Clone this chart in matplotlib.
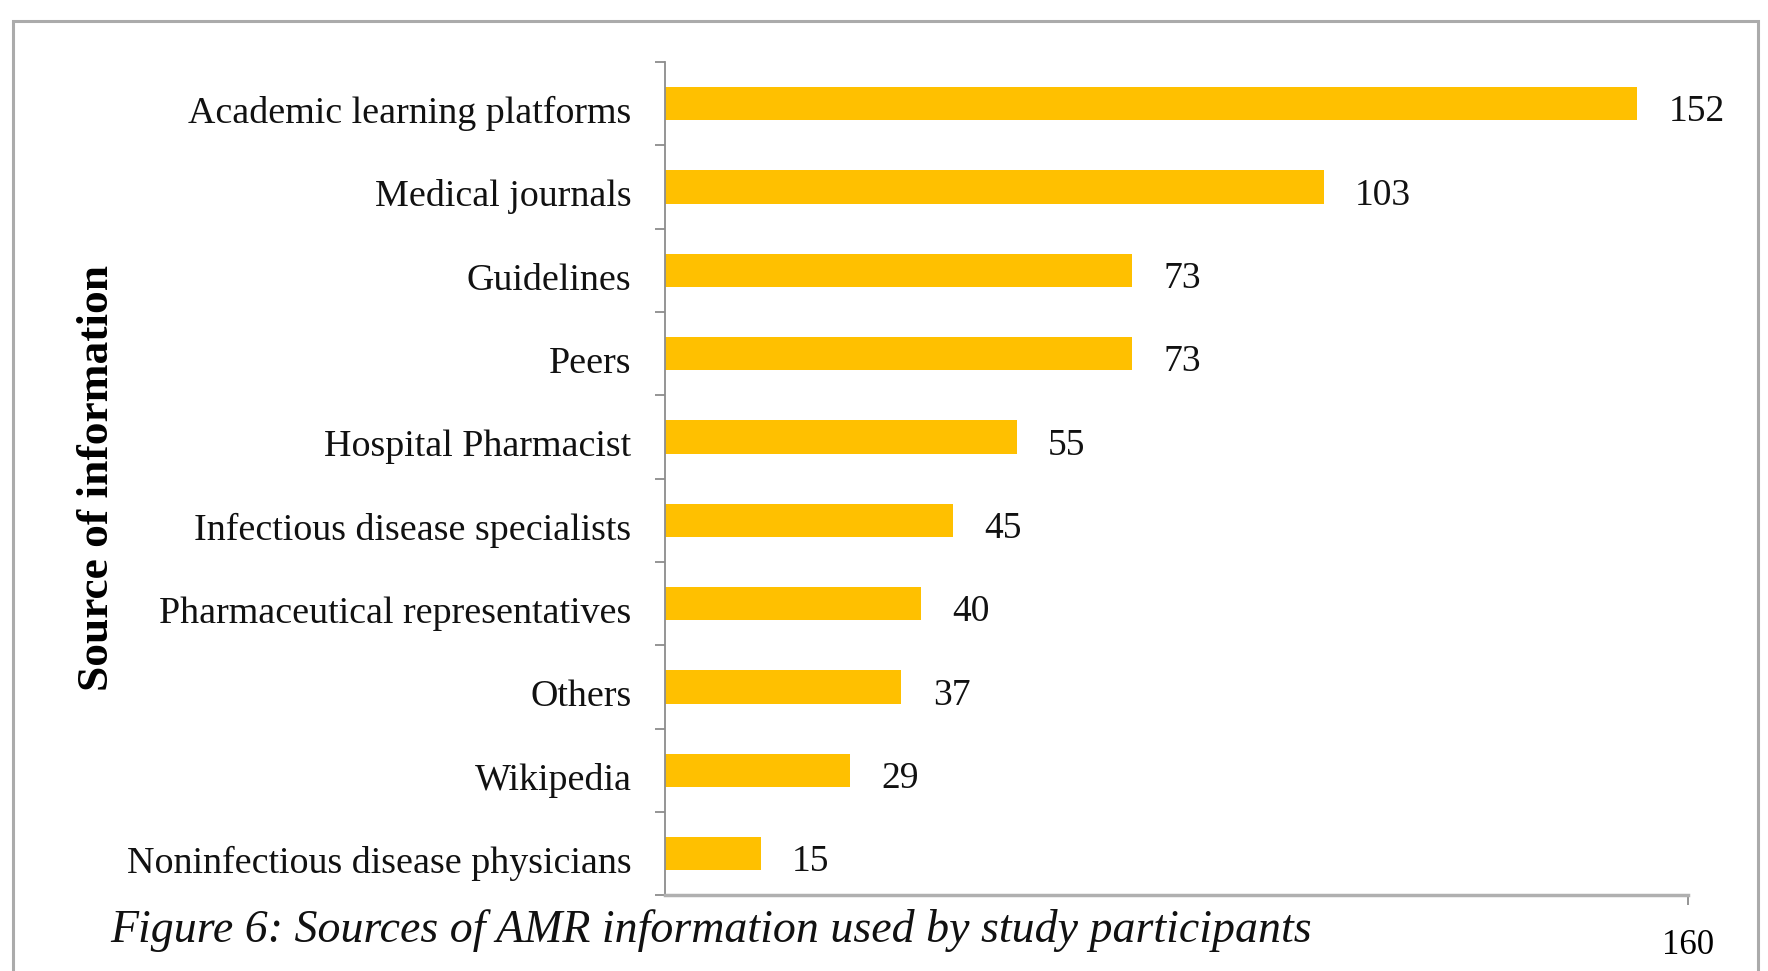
import numpy as np
import matplotlib
matplotlib.use('Agg')
from matplotlib import pyplot as plt
from matplotlib.patches import Rectangle

# data
sources = ['Academic learning platforms', 'Medical journals', 'Guidelines', 'Peers',
           'Hospital Pharmacist', 'Infectious disease specialists',
           'Pharmaceutical representatives', 'Others', 'Wikipedia',
           'Noninfectious disease physicians']
counts = [152, 103, 73, 73, 55, 45, 40, 37, 29, 15]
xticks = [160]

barColor = '#FFC000'
axisGrey = '#8c8c8c'
frameGrey = '#ababab'

plt.rcParams['font.family'] = ['Liberation Serif', 'DejaVu Serif']

fig = plt.figure(figsize=(17.68, 9.71), dpi=100)
ax = fig.add_axes([0.376, 0.078, 0.955 - 0.376, 0.936 - 0.078])

ypos = np.arange(len(sources))
ax.barh(ypos, counts, height=0.4, color=barColor)
for y, v in zip(ypos, counts):
  ax.text(v + 4.9, y + 0.1, str(v), va='center', ha='left', fontsize=27, color='#111111')

ax.set_xlim(0, 160)
ax.set_ylim(len(sources) - 0.5, -0.5)

# y labels sit a touch below the bar centres, short ticks between categories
ax.set_yticks(ypos + 0.07)
ax.set_yticklabels(sources, fontsize=27.4, color='#111111')
ax.tick_params('y', which='major', length=0, pad=24)
ax.set_yticks(np.arange(-0.5, len(sources), 1), minor=True)
ax.tick_params('y', which='minor', length=7, width=1.3, color=axisGrey, direction='out')

ax.set_xticks(xticks)
ax.tick_params('x', which='major', length=7, width=1.3, color=axisGrey, labelsize=25, pad=17)

for s in ['top', 'right']:
  ax.spines[s].set_visible(False)
ax.spines['left'].set_color(axisGrey)
ax.spines['left'].set_linewidth(1.3)
ax.spines['bottom'].set_color('#b0b0b0')
ax.spines['bottom'].set_linewidth(2.5)

ax.set_ylabel('Source of information', fontsize=32.7, fontweight='bold', labelpad=0)
ax.yaxis.set_label_coords(117 / 1768., 0.508, transform=fig.transFigure)

# caption
fig.text(110 / 1768., 1 - 930 / 971., 'Figure 6: Sources of AMR information used by study participants',
         fontsize=33, style='italic', va='center', ha='left', color='#111111')

# outer frame (bottom edge runs off the picture)
fig.patches.append(Rectangle((13 / 1768., -0.05), (1758 - 13) / 1768., 1.05 - 21 / 971.,
                             transform=fig.transFigure, fill=False, edgecolor=frameGrey,
                             linewidth=2.2))

fig.savefig('out.png', dpi=100)
